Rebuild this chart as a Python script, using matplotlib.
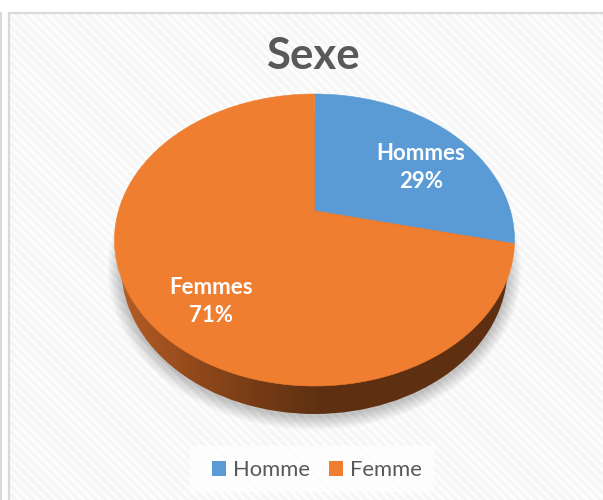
import numpy as np
import matplotlib.pyplot as plt
from matplotlib.patches import Ellipse, Rectangle, Polygon

categories = ['Homme', 'Femme']
slice_labels = ['Hommes', 'Femmes']
values = [28.6, 71.4]
colors = ['#5b9bd5', '#ef7e31']
title = 'Sexe'

plt.rcParams['font.family'] = ['Lato', 'DejaVu Sans']

fig = plt.figure(figsize=(6.03, 5.0), dpi=100)
ax = fig.add_axes([0, 0, 1, 1])
ax.set_xlim(0, 603)
ax.set_ylim(500, 0)
ax.axis('off')

# hintergrund mit diagonalen streifen
yy, xx = np.mgrid[0:500, 0:603]
stripes = ((xx - yy) % 9 < 4.5) * 1.0
bg = np.ones((500, 603, 3))
bg[:, :] = (0.995, 0.995, 0.995)
bg[stripes == 1] = (0.965, 0.965, 0.965)
ax.imshow(bg, extent=(0, 603, 500, 0), aspect='auto', zorder=0, interpolation='bilinear')

# weisser rand ausserhalb vom rahmen
ax.add_patch(Rectangle((0, 0), 603, 12, fc='white', ec='none', zorder=1))
ax.add_patch(Rectangle((0, 0), 8, 500, fc='white', ec='none', zorder=1))
ax.add_patch(Rectangle((0, 12), 1.5, 488, fc='#d9d9d9', ec='none', zorder=2))
ax.plot([9, 9, 603], [500, 13, 13], color='#d9d9d9', lw=1.6, zorder=2)

cx, cy = 314.5, 240
rx, ry = 200, 146
depth = 28
rx_low = 193

# schatten
for i in range(14):
    ax.add_patch(Ellipse((cx, cy + depth + 2), 2 * (rx_low + 14 - i), 2 * (ry + 14 - i),
                         fc='#000000', ec='none', alpha=0.016, zorder=3))

# seitenflaeche mit verlauf
side = Ellipse((cx, cy + depth), 2 * rx_low, 2 * ry, fc='none', ec='none', zorder=4)
ax.add_patch(side)
grad_pos = [115, 190, 260, 320, 515]
grad_col = np.array([[0.72, 0.37, 0.15], [0.58, 0.29, 0.11], [0.46, 0.23, 0.08],
                     [0.37, 0.19, 0.07], [0.37, 0.19, 0.07]])
xs = np.arange(115, 516)
grad = np.stack([np.interp(xs, grad_pos, grad_col[:, i]) for i in range(3)], axis=-1)[None, :, :]
im = ax.imshow(grad, extent=(115, 515, cy + depth + ry, cy - ry), aspect='auto', zorder=4)
im.set_clip_path(side)
ax.set_xlim(0, 603)
ax.set_ylim(500, 0)

# kreis auf die perspektivische ellipse abbilden
k = 0.2
b = ry * k
r = rx * np.sqrt(1 - k ** 2)


def project(theta):
    u, v = np.sin(theta), np.cos(theta)
    w = 1 + k * v
    return cx + r * u / w, cy - (ry * v + b) / w


apex = (cx, cy - b)
edges = np.cumsum([0] + values) / sum(values) * 2 * np.pi
for i, col in enumerate(colors):
    th = np.linspace(edges[i], edges[i + 1], 300)
    px, py = project(th)
    pts = np.vstack([[apex], np.column_stack([px, py])])
    ax.add_patch(Polygon(pts, closed=True, fc=col, ec=col, lw=0.4, zorder=5))

ax.text(312.5, 56, title, ha='center', va='center', fontsize=31.5, fontweight='bold',
        color='#595959', zorder=6)

label_pos = [(421, 167.5), (211, 301.5)]
for lab, val, (lx, ly) in zip(slice_labels, values, label_pos):
    ax.text(lx, ly, f'{lab}\n{round(val)}%', ha='center', va='center', fontsize=16,
            fontweight='bold', color='white', linespacing=1.37, zorder=6)

# legende
ax.add_patch(Rectangle((190, 446), 245, 46, fc='white', ec='none', alpha=0.75, zorder=5))
legend_x = [212, 329]
for name, col, lx in zip(categories, colors, legend_x):
    ax.add_patch(Rectangle((lx, 461), 14, 15, fc=col, ec='none', zorder=6))
    ax.text(lx + 21, 470, name, ha='left', va='center', fontsize=15.8,
            color='#595959', zorder=6)

fig.savefig('out.png', dpi=100)
